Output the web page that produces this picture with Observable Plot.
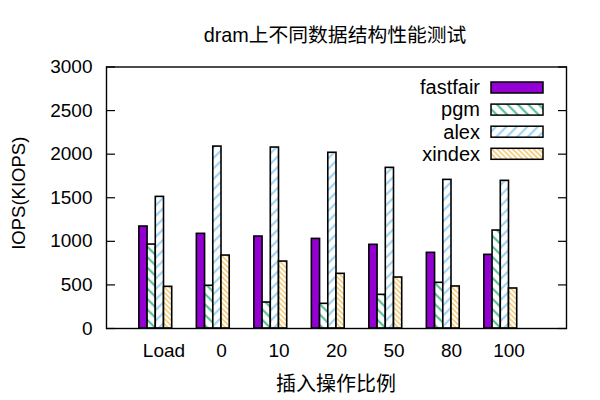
<!DOCTYPE html>
<html><head><meta charset="utf-8">
<script src="https://cdn.jsdelivr.net/npm/d3@7"></script>
<script src="https://cdn.jsdelivr.net/npm/@observablehq/plot@0.6"></script>
<style>body{margin:0;background:#fff} svg{display:block}</style>
</head><body><div id="chart"></div>
<script>
// ---- data ----
const categories = ["Load", "0", "10", "20", "50", "80", "100"];
const seriesNames = ["fastfair", "pgm", "alex", "xindex"];
const fastfair = [1170, 1086, 1055, 1028, 960, 868, 845];
const pgm      = [963, 490, 298, 283, 386, 524, 1124];
const alex     = [1510, 2087, 2076, 2016, 1843, 1705, 1694];
const xindex   = [478, 837, 768, 627, 585, 482, 459];
const yTicks = [0, 500, 1000, 1500, 2000, 2500, 3000];
const title = "dram上不同数据结构性能测试";
const xLabel = "插入操作比例";
const yLabel = "IOPS(KIOPS)";

const seriesValues = {fastfair, pgm, alex, xindex};
const FONT = '"Liberation Sans", Arial, "Noto Sans CJK SC", sans-serif';

// pattern / color styles
const styles = {
  fastfair: {fill: "#9400d3"},
  pgm:      {fill: "url(#pat-pgm)",    color: "#5bbf98", spacing: 7.4, angle: -45, sw: 2.2},
  alex:     {fill: "url(#pat-alex)",   color: "#9fd3f3", spacing: 7.4, angle: 45,  sw: 2.2},
  xindex:   {fill: "url(#pat-xindex)", color: "#f2c15e", spacing: 3.7, angle: -45, sw: 1.4}
};

const nSeries = seriesNames.length;
const slot = 1 / (nSeries + 3);
const rowsFor = (name, j) => seriesValues[name].map((v, i) => ({
  cat: categories[i], series: name, value: v,
  x1: i + (j - 3) * slot, x2: i + (j - 2) * slot
}));

const W = 600, H = 400;
const chart = Plot.plot({
  width: W, height: H,
  marginLeft: 106, marginRight: 34, marginTop: 66.5, marginBottom: 72,
  style: {fontFamily: FONT, fontSize: "19px", background: "white", color: "black", overflow: "visible"},
  x: {type: "linear", domain: [-1, categories.length], axis: null},
  y: {domain: [0, 3000], axis: null},
  marks: [
    ...seriesNames.map((name, j) => Plot.rectY(rowsFor(name, j), {
      x1: "x1", x2: "x2", y1: 0, y2: "value",
      fill: styles[name].fill, stroke: "black", strokeWidth: 1.6
    })),
    Plot.frame({stroke: "black", strokeWidth: 1.4}),
    Plot.axisY({ticks: yTicks, tickSize: -9, tickPadding: 23, tickFormat: d => String(d), label: null, fontSize: 19, strokeWidth: 1.2}),
    Plot.axisY({anchor: "right", ticks: yTicks, tickSize: -9, tickPadding: 0, tickFormat: () => "", label: null, strokeWidth: 1.2}),
    Plot.axisX({ticks: d3.range(categories.length), tickSize: 0, tickPadding: 15, tickFormat: i => categories[i], label: null, fontSize: 19})
  ]
});

document.getElementById("chart").appendChild(chart);

const svg = d3.select(chart);
const defs = svg.insert("defs", ":first-child");
for (const name of seriesNames) {
  const s = styles[name];
  if (!s.spacing) continue;
  const p = defs.append("pattern").attr("id", "pat-" + name)
    .attr("patternUnits", "userSpaceOnUse")
    .attr("width", s.spacing).attr("height", s.spacing)
    .attr("patternTransform", `rotate(${s.angle})`);
  p.append("rect").attr("width", s.spacing).attr("height", s.spacing).attr("fill", "white");
  p.append("line").attr("x1", s.spacing / 2).attr("x2", s.spacing / 2)
    .attr("y1", -1).attr("y2", s.spacing + 1)
    .attr("stroke", s.color).attr("stroke-width", s.sw);
}

const yScale = chart.scale("y");
const plotTop = yScale.apply(3000), plotBottom = yScale.apply(0);

// title
svg.append("text").attr("x", 335).attr("y", 42).attr("text-anchor", "middle")
  .attr("font-family", FONT).attr("font-size", 19.8).text(title);
// x label
svg.append("text").attr("x", 336).attr("y", 391).attr("text-anchor", "middle")
  .attr("font-family", FONT).attr("font-size", 20).text(xLabel);
// y label
svg.append("text").attr("transform", `translate(25,${(plotTop + plotBottom) / 2 - 4}) rotate(-90)`)
  .attr("text-anchor", "middle").attr("font-family", FONT).attr("font-size", 18.5).text(yLabel);

// legend
const lg = svg.append("g");
seriesNames.forEach((name, k) => {
  const cy = 87.5 + k * 22.1;
  lg.append("text").attr("x", 480).attr("y", cy + 6.8).attr("text-anchor", "end")
    .attr("font-family", FONT).attr("font-size", 20).text(name);
  lg.append("rect").attr("x", 491).attr("y", cy - 5.5).attr("width", 52).attr("height", 11)
    .attr("fill", styles[name].fill).attr("stroke", "black").attr("stroke-width", 1.5);
});
</script>
</body></html>
